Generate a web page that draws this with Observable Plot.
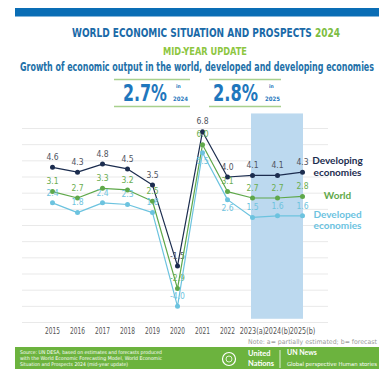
<!DOCTYPE html>
<html>
<head>
<meta charset="utf-8">
<script src="https://cdn.jsdelivr.net/npm/d3@7"></script>
<script src="https://cdn.jsdelivr.net/npm/@observablehq/plot@0.6"></script>
<style>
  body { margin: 0; background: #fff; }
  #wrap { position: relative; width: 379px; height: 369px; overflow: hidden; background: #fff; }
  #chart { position: absolute; left: 0; top: 0; }
  #deco { position: absolute; left: 0; top: 0; pointer-events: none; }
  .narrow { font-family: "Liberation Sans Narrow", "DejaVu Sans Condensed", "Liberation Sans", sans-serif; }
</style>
</head>
<body>
<div id="wrap">
  <div id="chart"></div>
  <svg id="deco" width="379" height="369" class="narrow">
    <rect x="15" y="8" width="364" height="8.5" fill="#0a6db5"></rect>
    <text x="72" y="37" font-size="12.5" font-weight="bold" fill="#1a6aa8" textLength="268" lengthAdjust="spacingAndGlyphs">WORLD ECONOMIC SITUATION AND PROSPECTS <tspan fill="#7cbd42">2024</tspan></text>
    <text x="163" y="54.5" font-size="10" font-weight="bold" fill="#8dc63f" textLength="84" lengthAdjust="spacingAndGlyphs">MID-YEAR UPDATE</text>
    <text x="20" y="71" font-size="11.5" font-weight="bold" fill="#2270a8" textLength="354" lengthAdjust="spacingAndGlyphs">Growth of economic output in the world, developed and developing economies</text>
    <line x1="114" x2="190" y1="79.5" y2="79.5" stroke="#a8d08d" stroke-width="1.5"></line>
    <line x1="114" x2="190" y1="106.5" y2="106.5" stroke="#a8d08d" stroke-width="1.5"></line>
    <line x1="209" x2="281" y1="79.5" y2="79.5" stroke="#a8d08d" stroke-width="1.5"></line>
    <line x1="209" x2="281" y1="106.5" y2="106.5" stroke="#a8d08d" stroke-width="1.5"></line>
    <text x="123" y="101" font-size="23" font-weight="bold" fill="#1f77bd" textLength="44" lengthAdjust="spacingAndGlyphs">2.7%</text>
    <text x="176" y="87.5" font-size="5" font-weight="bold" fill="#1f77bd">in</text>
    <text x="173" y="100.5" font-size="6" font-weight="bold" fill="#1f77bd" textLength="15" lengthAdjust="spacingAndGlyphs">2024</text>
    <text x="213" y="101" font-size="23" font-weight="bold" fill="#1f77bd" textLength="45" lengthAdjust="spacingAndGlyphs">2.8%</text>
    <text x="269" y="87.5" font-size="5" font-weight="bold" fill="#1f77bd">in</text>
    <text x="265" y="100.5" font-size="6" font-weight="bold" fill="#1f77bd" textLength="15" lengthAdjust="spacingAndGlyphs">2025</text>

    <text x="377" y="344" font-size="6.5" fill="#9a9a9a" text-anchor="end" textLength="129" lengthAdjust="spacingAndGlyphs">Note: a= partially estimated; b= forecast</text>
    <rect x="15" y="347" width="364" height="22" fill="#6cb33e"></rect>
    <text x="20" y="354" font-size="5" fill="#fff" textLength="142" lengthAdjust="spacingAndGlyphs">Source: UN DESA, based on estimates and forecasts produced</text>
    <text x="20" y="360" font-size="5" fill="#fff" textLength="142" lengthAdjust="spacingAndGlyphs">with the World Economic Forecasting Model, World Economic</text>
    <text x="20" y="366" font-size="5" fill="#fff" textLength="108" lengthAdjust="spacingAndGlyphs">Situation and Prospects 2024 (mid-year update)</text>
    <circle cx="229" cy="359" r="6.5" fill="none" stroke="#fff" stroke-width="1.2"></circle>
    <circle cx="229" cy="359" r="3" fill="none" stroke="#fff" stroke-width="0.8"></circle>
    <text x="248" y="356" font-size="7.5" font-weight="bold" fill="#fff" font-family="Lato, sans-serif">United</text>
    <text x="248" y="366" font-size="7.5" font-weight="bold" fill="#fff" font-family="Lato, sans-serif">Nations</text>
    <line x1="280" x2="280" y1="350" y2="368" stroke="#fff" stroke-width="0.8"></line>
    <text x="287" y="355" font-size="7" font-weight="bold" fill="#fff" font-family="Lato, sans-serif">UN News</text>
    <text x="287" y="366" font-size="5.5" fill="#fff" textLength="90" lengthAdjust="spacingAndGlyphs">Global perspective Human stories</text>
  </svg>
</div>
<script>
const years = ["2015","2016","2017","2018","2019","2020","2021","2022","2023(a)","2024(b)","2025(b)"];
const developing = [4.6, 4.3, 4.8, 4.5, 3.5, -1.5, 6.8, 4.0, 4.1, 4.1, 4.3];
const world      = [3.1, 2.7, 3.3, 3.2, 2.5, -2.9, 6.0, 3.1, 2.7, 2.7, 2.8];
const developed  = [2.4, 1.8, 2.4, 2.3, 1.8, -4.0, 5.5, 2.6, 1.5, 1.6, 1.6];
const seriesNames = ["Developing\neconomies", "World", "Developed\neconomies"];
const gridValues = [-5, -4, -3, -2, -1, 0, 1, 2, 3, 4, 5, 6, 7];

const seriesValues = [developing, world, developed];
const lineColors = ["#1c2d4f", "#5fa84a", "#6cc3df"];
const labelColors = ["#4f5460", "#6aad4f", "#6ec3de"];
const nameDy = [-6, -1, 4];

const marks = [
  Plot.ruleY(gridValues, {stroke: "#e9e9e9", strokeWidth: 1, insetLeft: -15, insetRight: -12}),
  Plot.rect([0], {x1: () => "2023(a)", x2: () => "2025(b)", y1: () => -4.8, y2: () => 7.9, fill: "#bcd9ef", insetLeft: -1, insetRight: -1})
];

seriesValues.forEach((vals, i) => {
  const rows = years.map((y, j) => ({year: y, value: vals[j], idx: j}));
  marks.push(Plot.line(rows, {x: "year", y: "value", stroke: lineColors[i], strokeWidth: 1.2}));
  marks.push(Plot.dot(rows, {x: "year", y: "value", fill: lineColors[i], r: 2.5}));
  const below = i === 2 ? (d => d.year === "2021" || d.year === "2022") : (() => false);
  marks.push(Plot.text(rows.filter(d => !below(d)), {x: "year", y: "value", text: d => d.value.toFixed(1), fill: labelColors[i], dy: -10, fontSize: 8.5}));
  marks.push(Plot.text(rows.filter(d => below(d)), {x: "year", y: "value", text: d => d.value.toFixed(1), fill: labelColors[i], dy: 9, fontSize: 8.5}));
  marks.push(Plot.text([rows[rows.length - 1]], {
    x: "year", y: "value", text: () => seriesNames[i], fill: lineColors[i],
    dx: 35, dy: nameDy[i], fontSize: 10, fontWeight: "bold", fontFamily: "Lato, sans-serif", lineHeight: 1.15, textAnchor: "middle"
  }));
});

const chart = Plot.plot({
  width: 379,
  height: 345,
  marginLeft: 37,
  marginRight: 63,
  marginTop: 128,
  marginBottom: 23,
  style: {fontFamily: '"Liberation Sans Narrow", "DejaVu Sans Condensed", "Liberation Sans", sans-serif', fontSize: "9px", color: "#555", background: "transparent"},
  x: {type: "point", domain: years, tickSize: 0, tickPadding: 5, label: null},
  y: {domain: [-5, 7], axis: null},
  marks
});
// fit the crowded tick labels into the narrow widths the reference uses
d3.select(chart).selectAll("g[aria-label='x-axis'] text, g[aria-label='x-axis tick label'] text")
  .each(function() {
    const t = this.textContent;
    d3.select(this)
      .attr("font-size", t.length > 4 ? 8.5 : 9)
      .attr("textLength", t.length > 4 ? 25.5 : 15)
      .attr("lengthAdjust", "spacingAndGlyphs");
  });
document.getElementById("chart").appendChild(chart);
</script>
</body>
</html>
